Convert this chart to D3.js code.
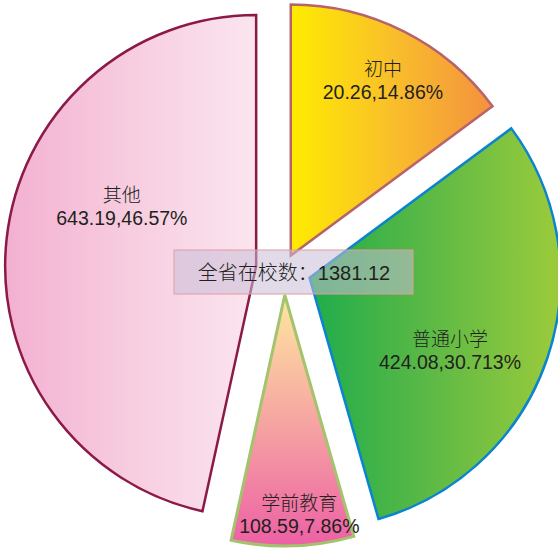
<!DOCTYPE html>
<html>
<head>
<meta charset="utf-8">
<script src="https://cdn.jsdelivr.net/npm/d3@7"></script>
<style>
	html, body { margin: 0; padding: 0; background: #fff; }
	svg { display: block; }
</style>
</head>
<body>
<svg id="chart" width="558" height="553"></svg>
<script>
(function() {
	'use strict';

	// data
	const categories = ['初中', '普通小学', '学前教育', '其他'];
	const counts = [20.26, 424.08, 108.59, 643.19];
	const percents = [14.86, 30.713, 7.86, 46.57];
	const totalName = '全省在校数';
	const total = 1381.12;

	// look of each slice
	const gradients = [
		{ dir: 'h', stops: ['#ffec00', '#f9bf2a', '#f3913f'] },
		{ dir: 'h', stops: ['#1fac4b', '#5fba45', '#9ccb3b'] },
		{ dir: 'v', stops: ['#ffe7a0', '#f6a6a2', '#ed60a5'] },
		{ dir: 'h', stops: ['#f3b0d1', '#f7cde0', '#fbe5ef'] }
	];
	const strokes = ['#b7636b', '#0a84cf', '#a3c46c', '#8b1a46'];
	const strokeWidths = [2.5, 2.5, 3, 2.5];
	const explode = [15, 27, 26, 28];
	const labelDist = [198, 158, 219, 147];
	const labelTurn = [1, 8.5, -2, 17.8];

	const svg = d3.select('#chart');
	const cx = 284, cy = 269, radius = 251;

	const rows = categories.map(function(c, i) {
		return { name: c, count: counts[i], pct: percents[i], i: i };
	});

	const pie = d3.pie()
		.sort(null)
		.value(function(d) { return d.pct; });

	const arc = d3.arc()
		.innerRadius(0)
		.outerRadius(radius);

	const defs = svg.append('defs');
	gradients.forEach(function(g, i) {
		const lg = defs.append('linearGradient')
			.attr('id', 'grad-' + i)
			.attr('x1', 0).attr('y1', 0)
			.attr('x2', g.dir === 'h' ? 1 : 0)
			.attr('y2', g.dir === 'h' ? 0 : 1);
		g.stops.forEach(function(col, k) {
			lg.append('stop')
				.attr('offset', k / (g.stops.length - 1))
				.attr('stop-color', col);
		});
	});

	const slices = pie(rows);

	function polar(r, a) {
		return [r * Math.sin(a), -r * Math.cos(a)];
	}

	const node = svg.selectAll('.slice')
		.data(slices)
		.enter().append('g')
		.attr('class', 'slice')
		.attr('transform', function(d) {
			const mid = (d.startAngle + d.endAngle) / 2;
			const p = polar(explode[d.data.i], mid);
			return 'translate(' + (cx + p[0]) + ',' + (cy + p[1]) + ')';
		});

	node.append('path')
		.attr('d', arc)
		.attr('fill', function(d) { return 'url(#grad-' + d.data.i + ')'; })
		.attr('stroke', function(d) { return strokes[d.data.i]; })
		.attr('stroke-width', function(d) { return strokeWidths[d.data.i]; })
		.attr('stroke-linejoin', 'miter');

	const label = node.append('text')
		.attr('text-anchor', 'middle')
		.attr('fill', '#231f20')
		.attr('transform', function(d) {
			const mid = (d.startAngle + d.endAngle) / 2 + labelTurn[d.data.i] * Math.PI / 180;
			const p = polar(labelDist[d.data.i], mid);
			return 'translate(' + p[0] + ',' + p[1] + ')';
		});

	label.append('tspan')
		.attr('x', 0)
		.attr('y', -4)
		.attr('font-family', '"Noto Sans CJK SC", sans-serif')
		.attr('font-weight', 300)
		.attr('font-size', 19)
		.text(function(d) { return d.data.name; });

	label.append('tspan')
		.attr('x', 0)
		.attr('y', 19)
		.attr('font-family', '"Liberation Sans", Arial, sans-serif')
		.attr('font-size', 19.5)
		.text(function(d) { return d.data.count + ',' + d.data.pct + '%'; });

	// total box in the middle
	const box = svg.append('g')
		.attr('transform', 'translate(' + (cx + 10) + ',' + (cy + 3) + ')');

	box.append('rect')
		.attr('x', -120)
		.attr('y', -22)
		.attr('width', 239)
		.attr('height', 44)
		.attr('fill', 'rgba(200,190,215,0.55)')
		.attr('stroke', '#e29c9c')
		.attr('stroke-width', 1);

	const t = box.append('text')
		.attr('text-anchor', 'middle')
		.attr('y', 8)
		.attr('fill', '#231f20')
		.attr('font-size', 20);
	t.append('tspan')
		.attr('font-family', '"Noto Sans CJK SC", sans-serif')
		.attr('font-weight', 300)
		.text(totalName + '：');
	t.append('tspan')
		.attr('font-family', '"Liberation Sans", Arial, sans-serif')
		.text(total);
})();
</script>
</body>
</html>
